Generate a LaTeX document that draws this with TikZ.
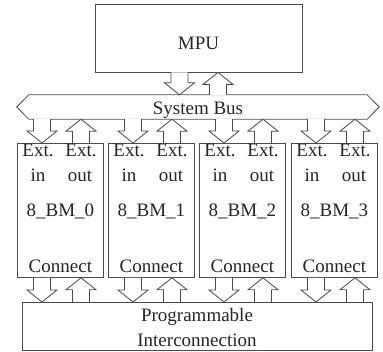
\documentclass[tikz,border=0pt]{standalone}
\usepackage{fontspec}
\setmainfont{Liberation Serif}
\usetikzlibrary{calc}
\tikzset{
  line/.style={draw=black!70, line width=0.8pt},
  box/.style={line, rectangle, inner sep=0pt},
  blk/.style={line, fill=white, line join=miter},
  lbl/.style={font=\fontsize{19}{22}\selectfont, inner sep=0pt, anchor=base, text=black!85},
}
% vertical block arrow: shaft starts at #1, tip at #2; #3 is + for a downward tip, - for an upward one
\newcommand\blkarrow[3]{%
  \draw[blk] let \p1=#1, \p2=#2 in
    (\x1-8.5pt,\y1) -- (\x1-8.5pt,\y2#312pt) -- (\x1-15pt,\y2#312pt) -- (\x1,\y2)
    -- (\x1+15pt,\y2#312pt) -- (\x1+8.5pt,\y2#312pt) -- (\x1+8.5pt,\y1);}
\begin{document}
\begin{tikzpicture}[x=1pt, y=-1pt]
  \useasboundingbox (0,0) rectangle (383,352);

  % processor
  \node[box, minimum width=207, minimum height=68] (mpu) at (198.5,38) {};
  \node[lbl] (mputxt) at (198.5,50) {MPU};

  % system bus (hexagonal bar)
  \node[inner sep=0pt, minimum width=362, minimum height=24] (bus) at (198,107) {};
  \draw[line] (bus.west) -- ([xshift=12pt]bus.north west) -- ([xshift=-12pt]bus.north east)
    -- (bus.east) -- ([xshift=-12pt]bus.south east) -- ([xshift=12pt]bus.south west) -- cycle;
  \node[lbl] (bustxt) at (198,115) {System Bus};

  % programmable interconnection
  \node[box, minimum width=350, minimum height=48, anchor=north west] (prog) at (22,302) {};
  \node[lbl] (progtxt1) at (197,322) {Programmable};
  \node[lbl] (progtxt2) at (197,347) {Interconnection};

  % MPU <-> bus
  \coordinate (md) at (mpu.south -| 179.5,0);
  \coordinate (mu) at (mpu.south -| 218,0);
  \blkarrow{(md)}{(md |- bus.north)}{+}
  \blkarrow{(mu |- bus.north)}{(mu)}{-}

  % building-block modules
  \foreach \i/\l in {0/17,1/108,2/199,3/291} {
    \node[box, minimum width=86, minimum height=134, anchor=north west] (bm\i) at (\l,143) {};
    \node[lbl] (exa\i) at ($(bm\i.north west)+(21,14)$) {Ext.};
    \node[lbl] (exb\i) at ($(bm\i.north west)+(64,14)$) {Ext.};
    \node[lbl] (in\i)  at ($(bm\i.north west)+(21,39)$) {in};
    \node[lbl] (out\i) at ($(bm\i.north west)+(63,39)$) {out};
    \node[lbl] (nm\i)  at ($(bm\i.north)+(0,74)$) {8\_BM\_\i};
    \node[lbl] (cn\i)  at ($(bm\i.south)+(0,-5)$) {Connect};

    \coordinate (td\i) at ($(bm\i.north west)+(25,0)$);
    \coordinate (tu\i) at ($(bm\i.north west)+(64,0)$);
    \coordinate (bd\i) at ($(bm\i.south west)+(25,0)$);
    \coordinate (bu\i) at ($(bm\i.south west)+(64,0)$);

    % bus <-> module
    \blkarrow{(td\i |- bus.south)}{(td\i)}{+}
    \blkarrow{(tu\i)}{(tu\i |- bus.south)}{-}
    % module <-> interconnection
    \blkarrow{(bd\i)}{(bd\i |- prog.north)}{+}
    \blkarrow{(bu\i |- prog.north)}{(bu\i)}{-}
  }
\end{tikzpicture}
\end{document}
